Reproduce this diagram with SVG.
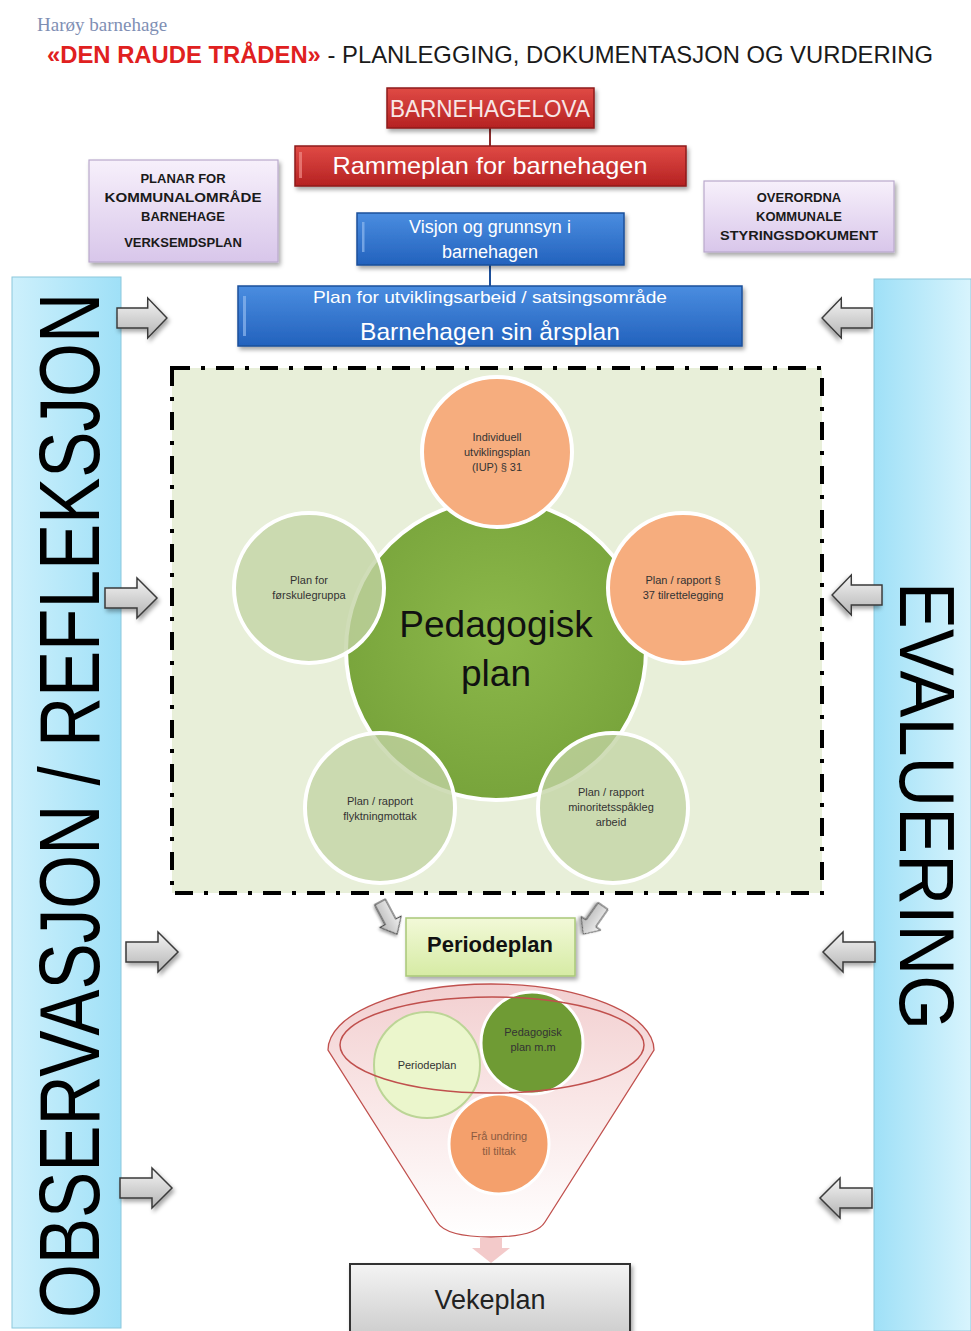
<svg xmlns="http://www.w3.org/2000/svg" width="971" height="1331" viewBox="0 0 971 1331">
<defs>
<linearGradient id="gRed" x1="0" y1="0" x2="0" y2="1"><stop offset="0" stop-color="#e04a45"/><stop offset="1" stop-color="#b52222"/></linearGradient>
<linearGradient id="gBlue" x1="0" y1="0" x2="0" y2="1"><stop offset="0" stop-color="#4a8de0"/><stop offset="1" stop-color="#2362bd"/></linearGradient>
<linearGradient id="gPurple" x1="0" y1="0" x2="0" y2="1"><stop offset="0" stop-color="#f7f0fb"/><stop offset="1" stop-color="#d8c6ea"/></linearGradient>
<linearGradient id="gCyanL" x1="0" y1="0" x2="1" y2="0"><stop offset="0" stop-color="#cdf0fc"/><stop offset="1" stop-color="#9fe0f7"/></linearGradient>
<linearGradient id="gCyanR" x1="0" y1="0" x2="1" y2="0"><stop offset="0" stop-color="#9fe0f7"/><stop offset="1" stop-color="#d8f4fd"/></linearGradient>
<linearGradient id="gArrow" x1="0" y1="0" x2="0" y2="1"><stop offset="0" stop-color="#f4f4f4"/><stop offset="1" stop-color="#b4b4b4"/></linearGradient>
<linearGradient id="gPeriode" x1="0" y1="0" x2="0" y2="1"><stop offset="0" stop-color="#f2f9d8"/><stop offset="1" stop-color="#d6eba4"/></linearGradient>
<linearGradient id="gGray" x1="0" y1="0" x2="0" y2="1"><stop offset="0" stop-color="#f4f4f4"/><stop offset="1" stop-color="#c8c8c8"/></linearGradient>
<linearGradient id="gFunnel" x1="0" y1="0" x2="0" y2="1"><stop offset="0" stop-color="#f2cfd0"/><stop offset="0.45" stop-color="#f9e6e6"/><stop offset="1" stop-color="#ffffff"/></linearGradient>
<radialGradient id="gBig" cx="0.5" cy="0.45" r="0.6"><stop offset="0" stop-color="#8cb84a"/><stop offset="1" stop-color="#76a23a"/></radialGradient>
<filter id="sh" x="-10%" y="-10%" width="130%" height="140%"><feDropShadow dx="2" dy="3" stdDeviation="2" flood-color="#000" flood-opacity="0.35"/></filter>
<path id="arrR" d="M0,-10 H32 V-20 L52,0 L32,20 V10 H0 Z"/>
</defs>
<style>
.t{font-family:"Liberation Sans","Open Sans",sans-serif}
.box-red{fill:url(#gRed);stroke:#8e1b1b;stroke-width:1.5;filter:url(#sh)}
.box-blue{fill:url(#gBlue);stroke:#1d4f9a;stroke-width:1.5;filter:url(#sh)}
.box-purple{fill:url(#gPurple);stroke:#b9a9cc;stroke-width:1.2;filter:url(#sh)}
.wt{fill:#ffffff;text-anchor:middle}
.pt{fill:#1a1a1a;font-weight:bold;font-size:13px;text-anchor:middle}
.arrow{fill:url(#gArrow);stroke:#3a3a3a;stroke-width:1.5;filter:url(#sh)}
.sat{stroke:#ffffff;stroke-width:4}
.ct{fill:#333;font-size:11px;text-anchor:middle}
.conn{stroke:#8a2c2c;stroke-width:2;fill:none}
</style>

<text class="t" x="37" y="31" style="font-family:'Liberation Serif',serif;font-size:19px;fill:#7f8fb4">Harøy barnehage</text>
<text class="t" x="47" y="63" textLength="886" lengthAdjust="spacingAndGlyphs" style="font-size:24px;fill:#1a1a1a"><tspan style="fill:#e02020;font-weight:bold">«DEN RAUDE TRÅDEN»</tspan> - PLANLEGGING, DOKUMENTASJON OG VURDERING</text>

<g id="col-left">
<rect x="12" y="277" width="109" height="1051" fill="url(#gCyanL)" stroke="#8cc8dc" stroke-width="1"/>
<text class="t" transform="translate(99,1318) rotate(-90)" textLength="1025" lengthAdjust="spacingAndGlyphs" style="font-size:86px;fill:#000">OBSERVASJON / REFLEKSJON</text>
</g>
<g id="col-right">
<rect x="874" y="279" width="97" height="1052" fill="url(#gCyanR)" stroke="#8cc8dc" stroke-width="1"/>
<text class="t" transform="translate(900,582) rotate(90)" textLength="448" lengthAdjust="spacingAndGlyphs" style="font-size:77px;fill:#000">EVALUERING</text>
</g>

<g id="connectors">
<line class="conn" x1="490" y1="128" x2="490" y2="147"/>
<line x1="490" y1="265" x2="490" y2="287" stroke="#1d4f9a" stroke-width="2"/>
<use href="#arrR" class="arrow" transform="translate(117,318) scale(0.96,1)"/>
<use href="#arrR" class="arrow" transform="translate(105,598)"/>
<use href="#arrR" class="arrow" transform="translate(126,952)"/>
<use href="#arrR" class="arrow" transform="translate(120,1188)"/>
<use href="#arrR" class="arrow" transform="translate(872,318) scale(-0.96,1)"/>
<use href="#arrR" class="arrow" transform="translate(882,595) scale(-0.96,1)"/>
<use href="#arrR" class="arrow" transform="translate(875,952) scale(-1,1)"/>
<use href="#arrR" class="arrow" transform="translate(872,1198) scale(-1,1)"/>
<use href="#arrR" class="arrow" transform="translate(380,902) rotate(62) scale(0.7,0.6)"/>
<use href="#arrR" class="arrow" transform="translate(603,906) rotate(125) scale(0.66,0.6)"/>
<path d="M480,1238 H502 V1248 H510 L491,1263 L472,1248 H480 Z" fill="#f2c4c4" opacity="0.9"/>
</g>

<g id="barnehagelova">
<rect class="box-red" x="387" y="88" width="207" height="40"/>
<text class="t wt" x="490" y="117" textLength="200" lengthAdjust="spacingAndGlyphs" style="font-size:23px;fill:#f8e6e6">BARNEHAGELOVA</text>
</g>
<g id="rammeplan">
<rect class="box-red" x="295" y="146" width="391" height="40"/>
<rect x="299" y="152" width="3" height="26" fill="#f08a86" opacity="0.7"/>
<text class="t wt" x="490" y="174" textLength="315" lengthAdjust="spacingAndGlyphs" style="font-size:24px">Rammeplan for barnehagen</text>
</g>
<g id="planar">
<rect class="box-purple" x="89" y="160" width="189" height="102"/>
<text class="t pt" x="183" y="183">PLANAR FOR</text>
<text class="t pt" x="183" y="202" textLength="157" lengthAdjust="spacingAndGlyphs">KOMMUNALOMRÅDE</text>
<text class="t pt" x="183" y="221">BARNEHAGE</text>
<text class="t pt" x="183" y="247">VERKSEMDSPLAN</text>
</g>
<g id="overordna">
<rect class="box-purple" x="704" y="181" width="190" height="71"/>
<text class="t pt" x="799" y="202">OVERORDNA</text>
<text class="t pt" x="799" y="221">KOMMUNALE</text>
<text class="t pt" x="799" y="240" textLength="158" lengthAdjust="spacingAndGlyphs">STYRINGSDOKUMENT</text>
</g>
<g id="visjon">
<rect class="box-blue" x="357" y="213" width="267" height="52"/>
<rect x="362" y="222" width="2.5" height="30" fill="#8fb8ee" opacity="0.7"/>
<text class="t wt" x="490" y="233" style="font-size:18px">Visjon og grunnsyn i</text>
<text class="t wt" x="490" y="258" style="font-size:18px">barnehagen</text>
</g>
<g id="arsplan">
<rect class="box-blue" x="238" y="286" width="504" height="60"/>
<rect x="243" y="296" width="3" height="40" fill="#8fb8ee" opacity="0.7"/>
<text class="t wt" x="490" y="303" textLength="354" lengthAdjust="spacingAndGlyphs" style="font-size:17px">Plan for utviklingsarbeid / satsingsområde</text>
<text class="t wt" x="490" y="340" textLength="260" lengthAdjust="spacingAndGlyphs" style="font-size:24px">Barnehagen sin årsplan</text>
</g>

<g id="pedagogisk-area">
<rect x="172" y="368" width="650" height="525" fill="#e8efd9" stroke="#000" stroke-width="4" stroke-dasharray="18 11 4 11"/>
</g>
<g id="pedagogisk-plan">
<circle cx="496" cy="650" r="150" fill="url(#gBig)" stroke="#ffffff" stroke-width="4"/>
<text class="t" x="496" y="637" text-anchor="middle" style="font-size:37px;fill:#111">Pedagogisk</text>
<text class="t" x="496" y="686" text-anchor="middle" style="font-size:37px;fill:#111">plan</text>
</g>
<g id="iup">
<circle class="sat" cx="497" cy="452" r="75" fill="#f6ad7e"/>
<text class="t ct" x="497" y="441">Individuell</text>
<text class="t ct" x="497" y="456">utviklingsplan</text>
<text class="t ct" x="497" y="471">(IUP) § 31</text>
</g>
<g id="plan37">
<circle class="sat" cx="683" cy="588" r="75" fill="#f6ad7e"/>
<text class="t ct" x="683" y="584">Plan / rapport §</text>
<text class="t ct" x="683" y="599">37 tilrettelegging</text>
</g>
<g id="forskule">
<circle class="sat" cx="309" cy="588" r="75" fill="#c3d4a4" fill-opacity="0.78"/>
<text class="t ct" x="309" y="584">Plan for</text>
<text class="t ct" x="309" y="599">førskulegruppa</text>
</g>
<g id="flyktning">
<circle class="sat" cx="380" cy="808" r="75" fill="#c3d4a4" fill-opacity="0.78"/>
<text class="t ct" x="380" y="805">Plan / rapport</text>
<text class="t ct" x="380" y="820">flyktningmottak</text>
</g>
<g id="minoritet">
<circle class="sat" cx="613" cy="808" r="75" fill="#c3d4a4" fill-opacity="0.78"/>
<text class="t ct" x="611" y="796">Plan / rapport</text>
<text class="t ct" x="611" y="811">minoritetsspåkleg</text>
<text class="t ct" x="611" y="826">arbeid</text>
</g>

<g id="periodeplan">
<rect x="406" y="918" width="169" height="58" fill="url(#gPeriode)" stroke="#a9c878" stroke-width="1.5" filter="url(#sh)"/>
<text class="t" x="490" y="952" text-anchor="middle" style="font-size:22px;font-weight:bold;fill:#111">Periodeplan</text>
</g>

<g id="funnel">
<path d="M328,1050 A163,66 0 0 1 654,1050 L545,1222 Q536,1237 491,1237 Q446,1237 437,1222 Z" fill="url(#gFunnel)" stroke="#c0504d" stroke-width="1.3"/>
<g id="f-periodeplan">
<circle cx="427" cy="1065" r="53" fill="#ebf6cc" stroke="#bcd596" stroke-width="2"/>
<text class="t ct" x="427" y="1069">Periodeplan</text>
</g>
<g id="f-pedagogisk">
<circle cx="532" cy="1043" r="51" fill="#6f9b34" stroke="#ffffff" stroke-width="3"/>
<text class="t ct" x="533" y="1036">Pedagogisk</text>
<text class="t ct" x="533" y="1051">plan m.m</text>
</g>
<g id="f-undring">
<circle cx="499" cy="1144" r="50" fill="#f4a06c" stroke="#ffffff" stroke-width="3"/>
<text class="t ct" x="499" y="1140" style="fill:#8a5a40">Frå undring</text>
<text class="t ct" x="499" y="1155" style="fill:#8a5a40">til tiltak</text>
</g>
<ellipse cx="492" cy="1045" rx="152" ry="48" fill="none" stroke="#c0504d" stroke-width="1.5"/>
</g>

<g id="vekeplan">
<rect x="350" y="1264" width="280" height="80" fill="url(#gGray)" stroke="#333" stroke-width="2" filter="url(#sh)"/>
<text class="t" x="490" y="1309" text-anchor="middle" style="font-size:27px;fill:#222">Vekeplan</text>
</g>
</svg>
